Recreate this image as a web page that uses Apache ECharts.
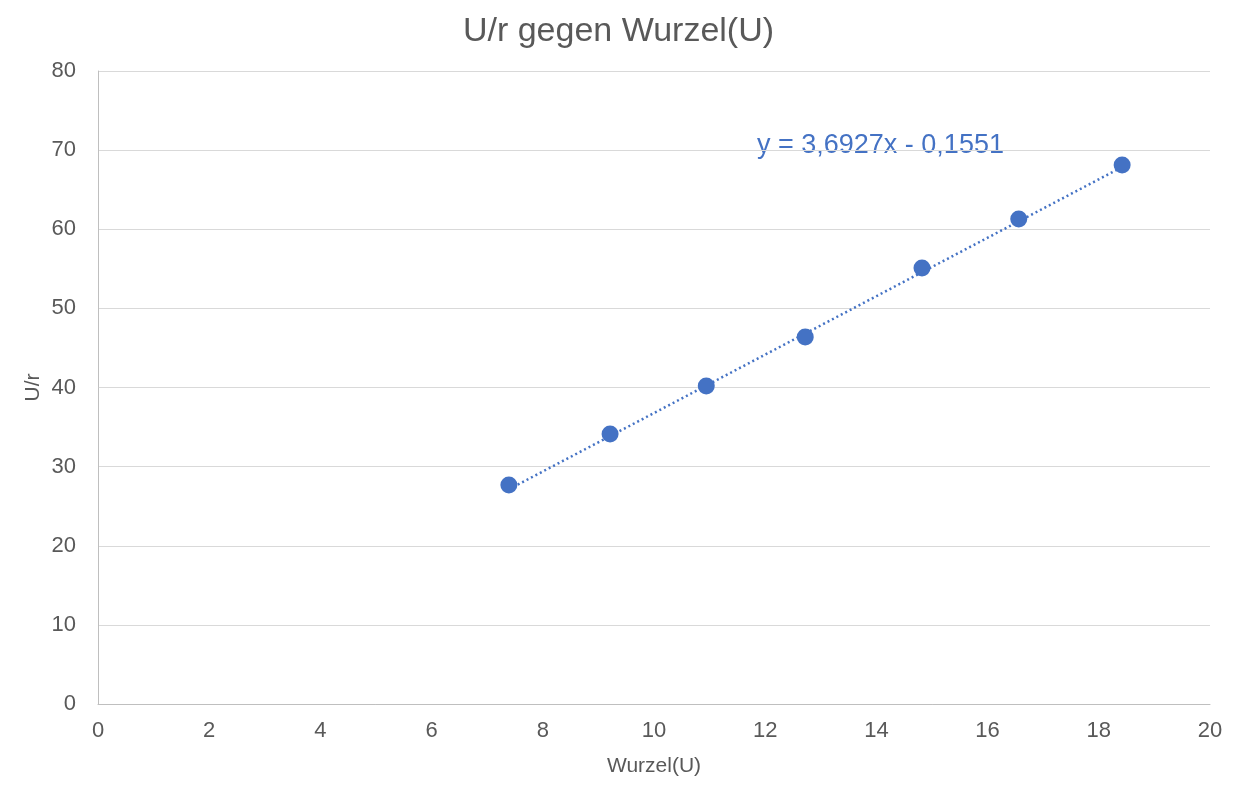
<!DOCTYPE html>
<html><head><meta charset="utf-8">
<script src="https://cdn.jsdelivr.net/npm/echarts@6/dist/echarts.min.js"></script>
<style>html,body{margin:0;padding:0;background:#fff}#c{width:1237px;height:790px}</style>
</head><body><div id="c"></div>
<script>
const wurzelU = [7.39, 9.21, 10.94, 12.72, 14.82, 16.56, 18.42];
const uDurchR = [27.68, 34.12, 40.19, 46.38, 55.10, 61.30, 68.12];
const trendSlope = 3.6927;
const trendIntercept = -0.1551;
const trendLabel = 'y = 3,6927x - 0,1551';
const xTicks = [0, 2, 4, 6, 8, 10, 12, 14, 16, 18, 20];
const yTicks = [0, 10, 20, 30, 40, 50, 60, 70, 80];

const xMin = Math.min(...wurzelU), xMax = Math.max(...wurzelU);
const trend = [[xMin, trendSlope * xMin + trendIntercept], [xMax, trendSlope * xMax + trendIntercept]];
const font = 'Liberation Sans, Arial, sans-serif';
const chart = echarts.init(document.getElementById('c'), null, {renderer: 'canvas'});
chart.setOption({
  animation: false,
  backgroundColor: '#fff',
  title: {
    text: 'U/r gegen Wurzel(U)', left: 'center', top: 10,
    textStyle: {fontFamily: font, fontSize: 34, fontWeight: 'normal', color: '#595959'}
  },
  grid: {left: 98, right: 27, top: 71, bottom: 86},
  xAxis: {
    type: 'value', min: xTicks[0], max: xTicks[xTicks.length - 1], interval: 2,
    name: 'Wurzel(U)', nameLocation: 'middle', nameGap: 52,
    nameTextStyle: {fontFamily: font, fontSize: 21, color: '#595959'},
    axisLine: {show: true, lineStyle: {color: '#bfbfbf', width: 1}},
    axisTick: {show: false},
    splitLine: {show: false},
    axisLabel: {fontFamily: font, fontSize: 22, color: '#595959', margin: 16}
  },
  yAxis: {
    type: 'value', min: yTicks[0], max: yTicks[yTicks.length - 1], interval: 10,
    name: 'U/r', nameLocation: 'middle', nameGap: 54, nameRotate: 90, nameMoveOverlap: false,
    nameTextStyle: {fontFamily: font, fontSize: 21, color: '#595959'},
    axisLine: {show: true, lineStyle: {color: '#bfbfbf', width: 1}},
    axisTick: {show: false},
    splitLine: {show: true, lineStyle: {color: '#d9d9d9', width: 1}},
    axisLabel: {fontFamily: font, fontSize: 22, color: '#595959', margin: 22}
  },
  series: [
    {
      type: 'line', data: trend, symbol: 'none', silent: true,
      lineStyle: {color: '#4472C4', width: 2.5, type: [2, 3]},
      z: 2
    },
    {
      type: 'scatter', data: wurzelU.map((x, i) => [x, uDurchR[i]]),
      symbol: 'circle', symbolSize: 17,
      itemStyle: {color: '#4472C4', opacity: 1}, z: 3
    }
  ],
  graphic: [{
    type: 'text', left: 757, top: 132,
    style: {text: trendLabel, fontFamily: font, fontSize: 27, fill: '#4472C4'}
  }]
});
</script></body></html>
